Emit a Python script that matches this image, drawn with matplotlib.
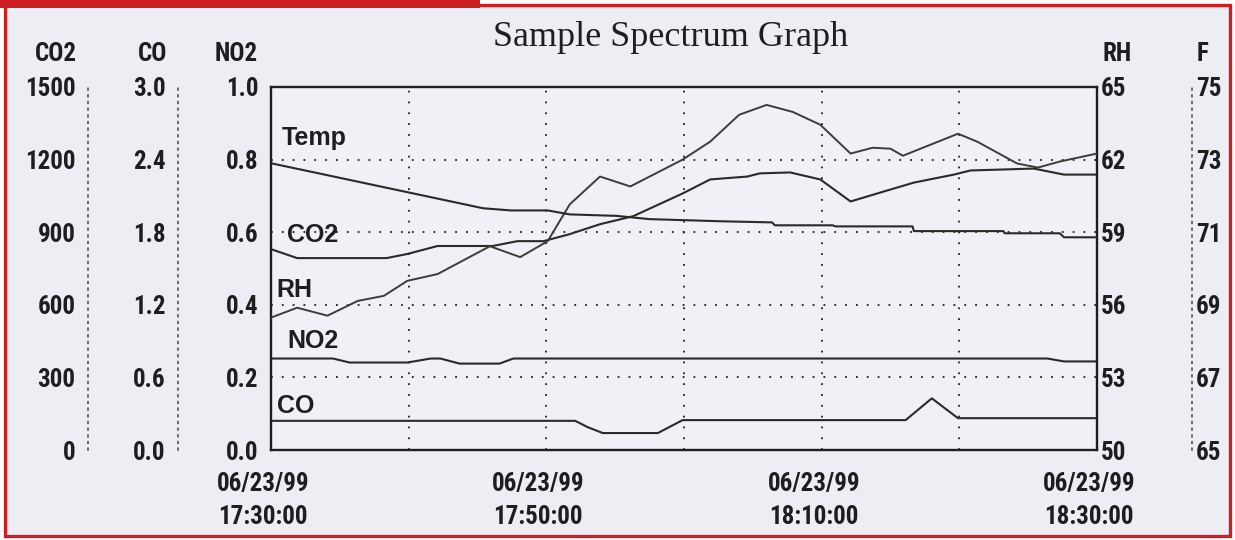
import matplotlib
matplotlib.use("Agg")
import matplotlib.pyplot as plt
from matplotlib import font_manager
from matplotlib.patches import Rectangle
from matplotlib.transforms import ScaledTranslation

# ---------------- data ----------------
title = "Sample Spectrum Graph"

# x positions are minutes after 06/23/99 17:30:00
x_ticks = [0, 20, 40, 60]
x_tick_labels = ["06/23/99\n17:30:00", "06/23/99\n17:50:00",
                 "06/23/99\n18:10:00", "06/23/99\n18:30:00"]
x_grid_minor = [10, 30, 50]

no2_ticks = [0.0, 0.2, 0.4, 0.6, 0.8, 1.0]
no2_labels = ["0.0", "0.2", "0.4", "0.6", "0.8", "1.0"]
co_ticks = [0.0, 0.6, 1.2, 1.8, 2.4, 3.0]
co_labels = ["0.0", "0.6", "1.2", "1.8", "2.4", "3.0"]
co2_ticks = [0, 300, 600, 900, 1200, 1500]
co2_labels = ["0", "300", "600", "900", "1200", "1500"]
rh_ticks = [50, 53, 56, 59, 62, 65]
rh_labels = ["50", "53", "56", "59", "62", "65"]
f_ticks = [65, 67, 69, 71, 73, 75]
f_labels = ["65", "67", "69", "71", "73", "75"]

temp_min = [0, 15.4, 17.4, 20.1, 21.7, 25.1, 27.5, 32.8, 36.4, 36.6, 40.8, 41.0,
            46.6, 46.7, 53.2, 53.3, 57.3, 57.6, 60]
temp_f = [72.9, 71.66, 71.6, 71.6, 71.49, 71.45, 71.36, 71.3, 71.27, 71.19, 71.19,
          71.16, 71.16, 71.03, 71.03, 70.97, 70.97, 70.86, 70.86]

co2_min = [0, 1.9, 8.4, 9.9, 12.1, 16.1, 17.9, 19.8, 21.7, 23.9, 26.3, 29.9, 31.9,
           34.6, 35.5, 37.7, 39.9, 42.1, 44.5, 46.7, 49.6, 50.8, 55.4, 57.6, 60]
co2_ppm = [830, 793, 793, 810, 843, 843, 863, 863, 892, 933, 966, 1060, 1118,
           1130, 1143, 1147, 1118, 1027, 1068, 1105, 1138, 1155, 1163, 1138, 1138]

rh_min = [0, 1.9, 4.1, 6.3, 8.2, 9.9, 12.1, 15.9, 18.1, 20.1, 21.7, 23.9, 26.1,
          29.9, 31.9, 34.0, 36.0, 37.9, 39.9, 42.1, 43.7, 45.0, 45.9, 48.1, 49.9,
          51.3, 54.2, 55.7, 57.3, 60]
rh_pct = [55.47, 55.88, 55.55, 56.16, 56.37, 56.99, 57.27, 58.42, 57.97, 58.63,
          60.15, 61.30, 60.89, 62.0, 62.74, 63.85, 64.26, 63.97, 63.44, 62.25,
          62.49, 62.45, 62.16, 62.66, 63.07, 62.74, 61.84, 61.67, 61.92, 62.25]

no2_min = [0, 4.5, 5.7, 9.9, 11.6, 12.3, 13.7, 16.6, 17.6, 56.4, 57.6, 60]
no2_ppm = [0.252, 0.252, 0.241, 0.241, 0.252, 0.252, 0.238, 0.238, 0.252, 0.252,
           0.244, 0.244]

co_min = [0, 22.1, 23.0, 24.1, 28.1, 29.9, 46.1, 48.0, 49.9, 60]
co_ppm = [0.241, 0.241, 0.189, 0.14, 0.14, 0.247, 0.247, 0.427, 0.263, 0.263]

# ---------------- fonts ----------------
names = {f.name for f in font_manager.fontManager.ttflist}
if "Liberation Sans Narrow" in names:
    NUM_FONT, NUM_SIZE = "Liberation Sans Narrow", 19
elif "Roboto Condensed" in names:
    NUM_FONT, NUM_SIZE = "Roboto Condensed", 18
elif "Liberation Sans" in names:
    NUM_FONT, NUM_SIZE = "Liberation Sans", 16.5
else:
    NUM_FONT, NUM_SIZE = "DejaVu Sans", 14
LBL_FONT = "Liberation Sans" if "Liberation Sans" in names else "DejaVu Sans"
TTL_FONT = "Liberation Serif" if "Liberation Serif" in names else "DejaVu Serif"

INK = "#1e1e1e"
LINE = "#2a2a2a"
BG = "#eceef4"
PLOT_BG = "#eff1f6"
RED = "#cf1e22"

W, H = 1235, 540
fig = plt.figure(figsize=(W / 100, H / 100), dpi=100, facecolor="white")


def fx(px):
    return px / W


def fy(py):
    return 1 - py / H


# background panel with red frame
fig.add_artist(Rectangle((fx(5), fy(536)), fx(1230 - 5), (536 - 5) / H,
                         transform=fig.transFigure, facecolor=BG,
                         edgecolor=RED, linewidth=2.4, zorder=-5))
fig.add_artist(Rectangle((0, fy(8)), fx(480), 8 / H, transform=fig.transFigure,
                         facecolor=RED, edgecolor="none", zorder=-4))

L, R, T, B = 271, 1097, 87, 450
ax = fig.add_axes([fx(L), fy(B), fx(R - L), (B - T) / H])
ax.set_facecolor(PLOT_BG)
ax.set_xlim(0, 60)
ax.set_ylim(0, 1)
for s in ax.spines.values():
    s.set_color(INK)
    s.set_linewidth(1.7)

dot = (0, (1, 5))
ax.set_xticks(x_ticks)
ax.set_xticks(x_grid_minor, minor=True)
ax.set_xticklabels(x_tick_labels, fontfamily=NUM_FONT, fontsize=NUM_SIZE,
                   fontweight="bold", color=INK, linespacing=1.45)
ax.set_yticks(no2_ticks)
ax.set_yticklabels(no2_labels, fontfamily=NUM_FONT, fontsize=NUM_SIZE,
                   fontweight="bold", color=INK)
ax.tick_params(axis="both", which="both", length=0)
ax.tick_params(axis="y", pad=9)
ax.tick_params(axis="x", pad=16)
ax.grid(True, which="both", axis="x", color=INK, linestyle=dot, linewidth=1.3)
ax.grid(True, which="major", axis="y", color=INK, linestyle=dot, linewidth=1.3)
shift = ScaledTranslation(-8 / 100, 0, fig.dpi_scale_trans)
for lab in ax.get_xticklabels():
    lab.set_transform(lab.get_transform() + shift)

ax.plot(no2_min, no2_ppm, color=LINE, linewidth=1.5)


def make_twin(side, pos, ylim, ticks, labels, dotted, pad):
    t = ax.twinx()
    t.patch.set_visible(False)
    t.set_ylim(*ylim)
    for s in t.spines.values():
        s.set_visible(False)
    if side == "left":
        t.yaxis.tick_left()
    else:
        t.yaxis.tick_right()
    if dotted:
        sp = t.spines[side]
        sp.set_visible(True)
        sp.set_position(("axes", pos))
        sp.set_linestyle((0, (1, 3)))
        sp.set_linewidth(1.2)
        sp.set_color("#555555")
    else:
        t.spines[side].set_position(("axes", pos))
    t.set_yticks(ticks)
    t.set_yticklabels(labels, fontfamily=NUM_FONT, fontsize=NUM_SIZE,
                      fontweight="bold", color=INK)
    t.tick_params(axis="y", length=0, pad=pad)
    return t


ax_co2 = make_twin("left", (88 - L) / (R - L), (0, 1500), co2_ticks, co2_labels, True, 9)
ax_co = make_twin("left", (178 - L) / (R - L), (0, 3), co_ticks, co_labels, True, 9)
ax_rh = make_twin("right", 1.0, (50, 65), rh_ticks, rh_labels, False, 3)
ax_f = make_twin("right", (1192 - L) / (R - L), (65, 75), f_ticks, f_labels, True, 3)

ax_co2.plot(co2_min, co2_ppm, color=LINE, linewidth=1.5)
ax_co.plot(co_min, co_ppm, color=LINE, linewidth=1.5)
ax_rh.plot(rh_min, rh_pct, color="#3c3c3c", linewidth=1.4)
ax_f.plot(temp_min, temp_f, color=LINE, linewidth=1.5)

# series names inside the plot
for txt, xp, yp in [("Temp", 282, 145), ("CO2", 287, 242), ("RH", 276, 297),
                    ("NO2", 287, 348), ("CO", 277, 413)]:
    ax.text((xp - L) / (R - L), (B - yp) / (B - T), txt, transform=ax.transAxes,
            fontfamily=LBL_FONT, fontsize=18, fontweight="bold", color=INK,
            ha="left", va="baseline")

# axis titles
for txt, xp, ha in [("CO2", 77, "right"), ("CO", 167, "right"), ("NO2", 258, "right"),
                    ("RH", 1103, "left"), ("F", 1197, "left")]:
    fig.text(fx(xp), fy(61), txt, fontfamily=NUM_FONT, fontsize=NUM_SIZE,
             fontweight="bold", color=INK, ha=ha, va="baseline")

fig.text(fx(671), fy(46), title, fontfamily=TTL_FONT, fontsize=26,
         color=INK, ha="center", va="baseline")

fig.savefig("out.png", dpi=100, facecolor="white")
